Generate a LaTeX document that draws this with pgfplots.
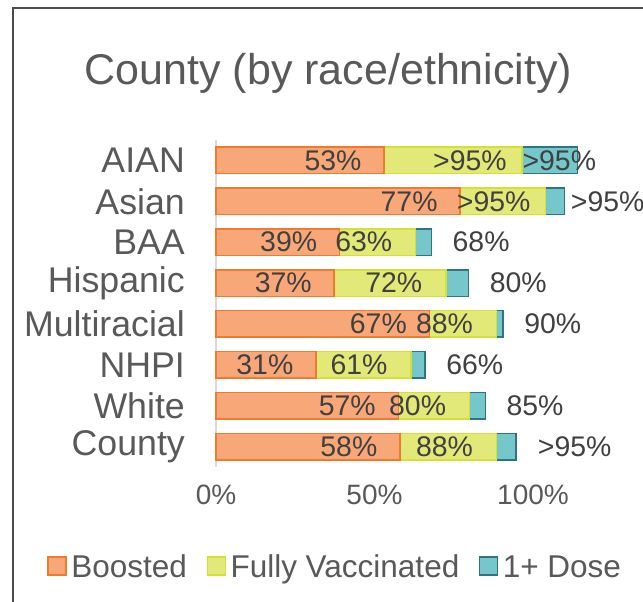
\documentclass[border=0pt]{standalone}
\usepackage{pgfplots}
\pgfplotsset{compat=1.18}
\usepackage{pgfplotstable}
\usepackage{fontspec}
\setmainfont{Liberation Sans}
\definecolor{bfill}{RGB}{248,168,120}
\definecolor{bedge}{RGB}{242,122,44}
\definecolor{ffill}{RGB}{226,233,120}
\definecolor{fedge}{RGB}{212,224,50}
\definecolor{ofill}{RGB}{118,199,204}
\definecolor{oedge}{RGB}{46,117,128}
\definecolor{txt}{RGB}{89,89,89}
\definecolor{lbl}{RGB}{64,64,64}
\pgfplotstableread{
idx b f o bl fl ol olx
0 53 96.5 114 53 >95 >95 96.65
1 77 104 110 77 >95 >95 111.9
2 39 63 68 39 63 68 74.6
3 37.3 72.5 79.7 37 72 80 86.3
4 67.3 88.5 90.6 67 88 90 97.2
5 31.5 61.5 66 31 61 66 72.6
6 57.5 80 85 57 80 85 91.6
7 58 88.5 94.6 58 88 >95 101.5
}\data
\begin{document}
\begin{tikzpicture}[x=1bp,y=1bp]
\useasboundingbox (0,0) rectangle (643,602);
\fill[white] (0,0) rectangle (643,602);
\draw[line width=1.5bp, color=black!70] (13,0) -- (13,594) -- (643,594);
\node[anchor=base, font=\fontsize{43bp}{50bp}\selectfont, text=txt, inner sep=0pt] at (328.5,517) {County (by race/ethnicity)};
\begin{axis}[
  at={(216bp,135bp)}, anchor=south west,
  scale only axis, width=380.4bp, height=327bp,
  xbar, bar shift=0pt, bar width=0.65,
  xmin=0, xmax=120, ymin=-0.5, ymax=7.5,
  y dir=reverse,
  axis line style={draw=none},
  major tick length=0pt,
  xtick={0,50,100}, xticklabels={0\%,50\%,100\%},
  ytick={0,1,2,3,4,5,6,7},
  yticklabels={AIAN,Asian,BAA,Hispanic,Multiracial,NHPI,White,County},
  xticklabel style={font=\fontsize{28bp}{32bp}\selectfont, text=txt, inner sep=0pt, anchor=north, yshift=-18bp},
  yticklabel style={font=\fontsize{35.7bp}{40bp}\selectfont, text=txt, inner sep=0pt, anchor=east, xshift=-31bp},
  clip=false,
  point meta=explicit symbolic,
  nodes near coords={\pgfplotspointmeta\%},
  nodes near coords style={font=\fontsize{28.4bp}{32bp}\selectfont, text=lbl, inner sep=0pt},
  reverse legend,
  legend columns=-1,
  legend style={draw=none, fill=none, at={(0.3167,-0.306)}, anchor=center,
    font=\fontsize{31.5bp}{36bp}\selectfont, text=txt,
    /tikz/every even column/.append style={column sep=15bp},
    nodes={inner sep=0pt, inner xsep=4.5bp}},
  legend image code/.code={\draw[#1, line width=1.5bp] (-3bp,-8bp) rectangle (15bp,10bp);},
]
\draw[black!15, line width=1.5bp] (axis cs:0,-0.5) -- (axis cs:0,7.5);
\addplot[fill=ofill, draw=oedge, line width=1.5bp, nodes near coords=\empty]
  table[x=o, y=idx, meta=ol] {\data};
\addplot[fill=ffill, draw=fedge, line width=1.5bp,
  nodes near coords style={anchor=center, xshift=-52bp}]
  table[x=f, y=idx, meta=fl] {\data};
\addplot[fill=bfill, draw=bedge, line width=1.5bp,
  nodes near coords style={anchor=center, xshift=-51bp}]
  table[x=b, y=idx, meta=bl] {\data};
\addplot[draw=none, fill=none, forget plot,
  nodes near coords style={anchor=west}]
  table[x=olx, y=idx, meta=ol] {\data};
\legend{1+ Dose, Fully Vaccinated, Boosted}
\end{axis}
\end{tikzpicture}
\end{document}
